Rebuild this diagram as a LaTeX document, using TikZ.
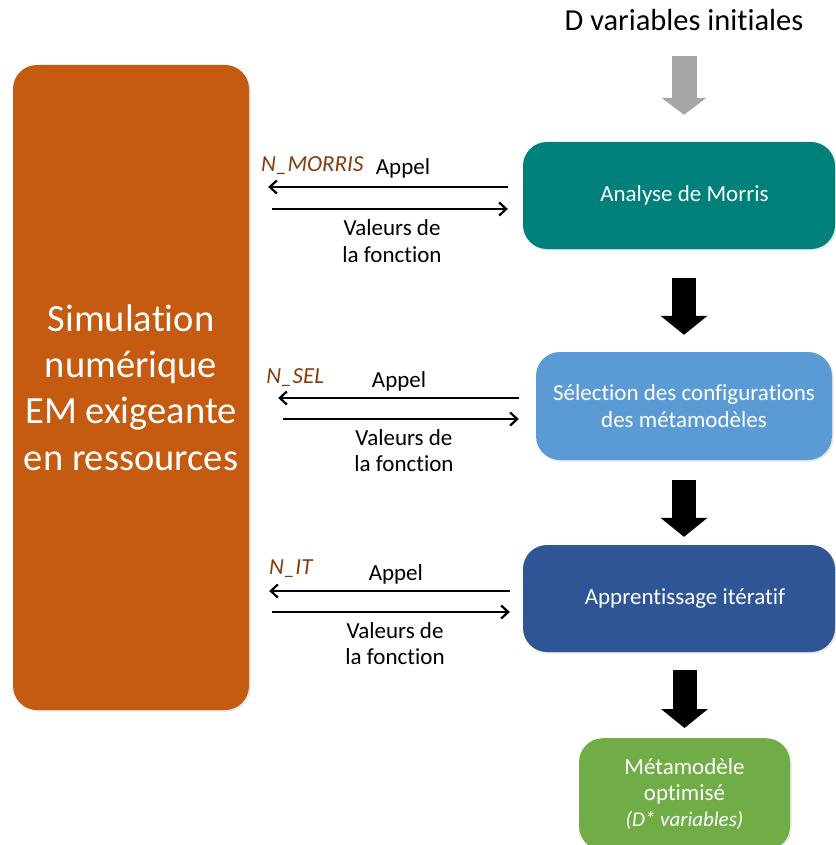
\documentclass[tikz,border=0pt]{standalone}
\usepackage{fontspec}
\setmainfont{Carlito}[Ligatures=NoCommon]
\usetikzlibrary{positioning, arrows.meta, shadows}

\definecolor{simorange}{HTML}{C55A11}
\definecolor{morristeal}{HTML}{00807A}
\definecolor{selbleu}{HTML}{5B9BD5}
\definecolor{appbleu}{HTML}{2F5597}
\definecolor{metavert}{HTML}{70AD47}
\definecolor{nbrun}{HTML}{843C0C}
\definecolor{flechegris}{HTML}{A6A6A6}

\tikzset{
    etape/.style={rounded corners=24pt, text=white, align=center,
        inner sep=0pt, font=\fontsize{23}{27}\selectfont,
        drop shadow={shadow xshift=1.5pt, shadow yshift=-1.5pt, opacity=0.2}},
    appel/.style={line width=2.2pt, -{Straight Barb[length=7pt, width=13pt]}},
    etiq/.style={font=\fontsize{23}{26.5}\selectfont, align=center, inner sep=0pt},
    nbappels/.style={etiq, text=nbrun, font=\fontsize{23}{26}\selectfont\itshape, anchor=west},
    bloc/.style={line width=24pt, -{Triangle[length=19pt, width=46pt]}},
}

\begin{document}
\begin{tikzpicture}[x=1pt, y=-1pt]
    \useasboundingbox (0,0) rectangle (835,845);

    % simulation box
    \node[etape, fill=simorange, minimum width=236pt, minimum height=645pt,
          font=\fontsize{38.5}{46.3}\selectfont] (sim) at (131,387.5)
          {Simulation\\numérique\\EM exigeante\\en ressources};

    % steps
    \node[font=\fontsize{30.5}{34}\selectfont, inner sep=0pt] (init) at (684,20) {D variables initiales};
    \node[etape, fill=morristeal, minimum width=312pt, minimum height=107pt] (morris) at (679,195.5)
          {\hspace*{11pt}Analyse de Morris};
    \node[etape, fill=selbleu, minimum width=296pt, minimum height=108pt] (selection) at (684,406)
          {Sélection des configurations\\des métamodèles};
    \node[etape, fill=appbleu, minimum width=312pt, minimum height=107pt] (apprent) at (679,598.5)
          {\hspace*{12pt}Apprentissage itératif};
    \node[etape, fill=metavert, minimum width=211pt, minimum height=112pt, anchor=north,
          font=\fontsize{23}{26}\selectfont] (meta) at (684.5,738)
          {Métamodèle\\optimisé\\{\fontsize{21}{26}\selectfont\itshape (D* variables)}};

    % vertical arrows
    \draw[bloc, draw=flechegris, -{Triangle[length=17pt, width=44pt]}, line width=25pt,
          shorten <=25pt, shorten >=27pt] (init.south) -- (init.south |- morris.north);
    \draw[bloc, shorten <=29pt, shorten >=17pt] (morris.south -| selection.north) -- (selection.north);
    \draw[bloc, shorten <=20pt, shorten >=8pt] (selection.south) -- (selection.south |- apprent.north);
    \draw[bloc, shorten <=18pt, shorten >=10pt] (apprent.south -| meta.north) -- (meta.north);

    % calls to the simulation
    \draw[appel, shorten <=15pt, shorten >=19pt] ([yshift=8.5pt]morris.west) -- ([yshift=8.5pt]morris.west -| sim.east)
        node[etiq, pos=0.438, yshift=19pt] (appelA) {Appel}
        node[nbappels, pos=0.96, yshift=21pt] (nA) {N\_MORRIS};
    \draw[appel, shorten <=23pt, shorten >=15pt] ([yshift=-13.5pt]morris.west -| sim.east) -- ([yshift=-13.5pt]morris.west)
        node[etiq, pos=0.522, yshift=-32pt] (valA) {Valeurs de\\la fonction};

    \draw[appel, shorten <=17pt, shorten >=29pt] ([yshift=8pt]selection.west) -- ([yshift=8pt]selection.west -| sim.east)
        node[etiq, pos=0.477, yshift=17pt] (appelB) {Appel}
        node[nbappels, pos=0.944, yshift=20pt] (nB) {N\_SEL};
    \draw[appel, shorten <=34pt, shorten >=17pt] ([yshift=-13pt]selection.west -| sim.east) -- ([yshift=-13pt]selection.west)
        node[etiq, pos=0.54, yshift=-31.5pt] (valB) {Valeurs de\\la fonction};

    \draw[appel, shorten <=13pt, shorten >=20pt] ([yshift=7.5pt]apprent.west) -- ([yshift=7.5pt]apprent.west -| sim.east)
        node[etiq, pos=0.464, yshift=17pt] (appelC) {Appel}
        node[nbappels, pos=0.931, yshift=22pt] (nC) {N\_IT};
    \draw[appel, shorten <=23pt, shorten >=13pt] ([yshift=-13.5pt]apprent.west -| sim.east) -- ([yshift=-13.5pt]apprent.west)
        node[etiq, pos=0.533, yshift=-31.5pt] (valC) {Valeurs de\\la fonction};
\end{tikzpicture}
\end{document}
